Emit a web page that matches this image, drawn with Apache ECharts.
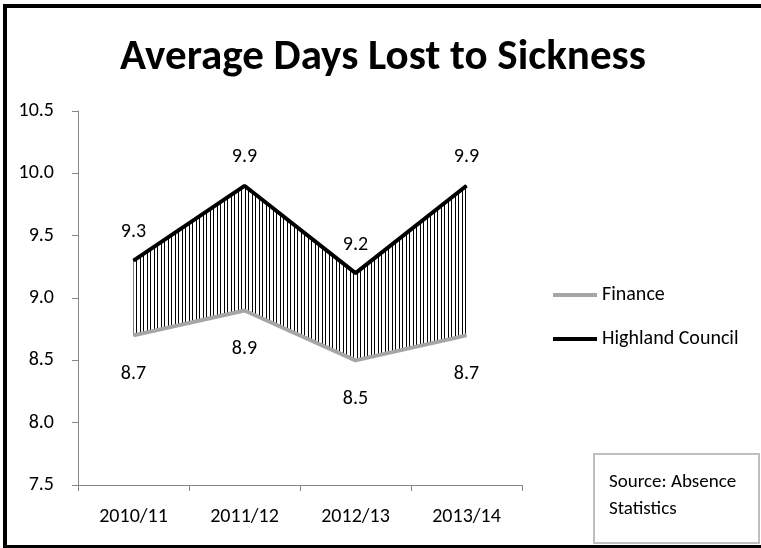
<!DOCTYPE html>
<html>
<head>
<meta charset="utf-8">
<script src="https://cdn.jsdelivr.net/npm/echarts@6/dist/echarts.min.js"></script>
<style>
  html, body { margin: 0; padding: 0; background: #fff; overflow: hidden; }
  #chart { width: 761px; height: 548px; }
</style>
</head>
<body>
<div id="chart"></div>
<script>
// chart data
const categories = ["2010/11", "2011/12", "2012/13", "2013/14"];
const financeValues = [8.7, 8.9, 8.5, 8.7];
const highlandValues = [9.3, 9.9, 9.2, 9.9];
const yMin = 7.5;
const yMax = 10.5;
const yStep = 0.5;

const FONT = "Carlito, Calibri, 'Open Sans', sans-serif";

// vertical hatch pattern for the high-low lines
function hatchPattern() {
    const c = document.createElement("canvas");
    c.width = 7;
    c.height = 4;
    const ctx = c.getContext("2d");
    ctx.fillStyle = "#000";
    ctx.fillRect(0, 0, 1, 4);
    ctx.fillRect(3, 0, 1, 4);
    return c;
}

const gapValues = highlandValues.map((v, i) => +(v - financeValues[i]).toFixed(2));

const chart = echarts.init(document.getElementById("chart"), null, { renderer: "canvas" });

chart.setOption({
    animation: false,
    backgroundColor: "#fff",
    textStyle: { fontFamily: FONT, color: "#000" },
    title: {
        text: "Average Days Lost to Sickness",
        left: 378,
        textAlign: "center",
        top: 32,
        textStyle: { fontFamily: FONT, fontSize: 43, fontWeight: "bold", color: "#000" }
    },
    grid: { left: 78, top: 111, right: 239, bottom: 63 },
    legend: {
        data: ["Finance", "Highland Council"],
        orient: "vertical",
        left: 553,
        top: 285,
        padding: 0,
        icon: "rect",
        itemWidth: 44,
        itemHeight: 4,
        itemGap: 24,
        textStyle: { fontFamily: FONT, fontSize: 20, color: "#000" }
    },
    xAxis: {
        type: "category",
        data: categories,
        boundaryGap: true,
        axisLine: { lineStyle: { color: "#868686", width: 1 } },
        axisTick: { show: true, length: 6, lineStyle: { color: "#868686" } },
        axisLabel: { fontFamily: FONT, fontSize: 20, color: "#000", margin: 22 }
    },
    yAxis: {
        type: "value",
        min: yMin,
        max: yMax,
        interval: yStep,
        axisLine: { show: true, lineStyle: { color: "#868686", width: 1 } },
        axisTick: { show: true, length: 6, lineStyle: { color: "#868686" } },
        splitLine: { show: false },
        axisLabel: {
            fontFamily: FONT, fontSize: 20, color: "#000", margin: 24,
            formatter: v => v.toFixed(1)
        }
    },
    graphic: [
        { type: "rect", silent: true, shape: { x: 3, y: 4, width: 758, height: 4 }, style: { fill: "#000" } },
        { type: "rect", silent: true, shape: { x: 3, y: 4, width: 4, height: 544 }, style: { fill: "#000" } },
        { type: "rect", silent: true, shape: { x: 3, y: 545, width: 758, height: 3 }, style: { fill: "#000" } },
        {
            type: "group",
            left: 593,
            top: 453,
            children: [
                {
                    type: "rect",
                    shape: { x: 0, y: 0, width: 165, height: 89 },
                    style: { fill: "#fff", stroke: "#bfbfbf", lineWidth: 2 }
                },
                {
                    type: "text",
                    x: 15,
                    y: 15,
                    style: {
                        text: "Source: Absence\nStatistics",
                        font: "19px " + FONT,
                        lineHeight: 27,
                        fill: "#000"
                    }
                }
            ]
        }
    ],
    series: [
        {
            name: "base",
            type: "line",
            stack: "band",
            data: financeValues,
            symbol: "none",
            lineStyle: { width: 0, opacity: 0 },
            silent: true,
            z: 1
        },
        {
            name: "gap",
            type: "line",
            stack: "band",
            data: gapValues,
            symbol: "none",
            lineStyle: { width: 0, opacity: 0 },
            areaStyle: { color: { image: hatchPattern(), repeat: "repeat" }, opacity: 1 },
            silent: true,
            z: 1
        },
        {
            name: "Finance",
            type: "line",
            data: financeValues,
            symbol: "circle",
            symbolSize: 1,
            showSymbol: true,
            color: "#a6a6a6",
            lineStyle: { color: "#a6a6a6", width: 4 },
            label: {
                show: true,
                position: "bottom",
                distance: 28,
                fontFamily: FONT,
                fontSize: 20,
                color: "#000",
                formatter: p => p.value.toFixed(1)
            },
            z: 3
        },
        {
            name: "Highland Council",
            type: "line",
            data: highlandValues,
            symbol: "circle",
            symbolSize: 1,
            showSymbol: true,
            color: "#000",
            lineStyle: { color: "#000", width: 4 },
            label: {
                show: true,
                position: "top",
                distance: 18,
                fontFamily: FONT,
                fontSize: 20,
                color: "#000",
                formatter: p => p.value.toFixed(1)
            },
            z: 4
        }
    ]
});
</script>
</body>
</html>
